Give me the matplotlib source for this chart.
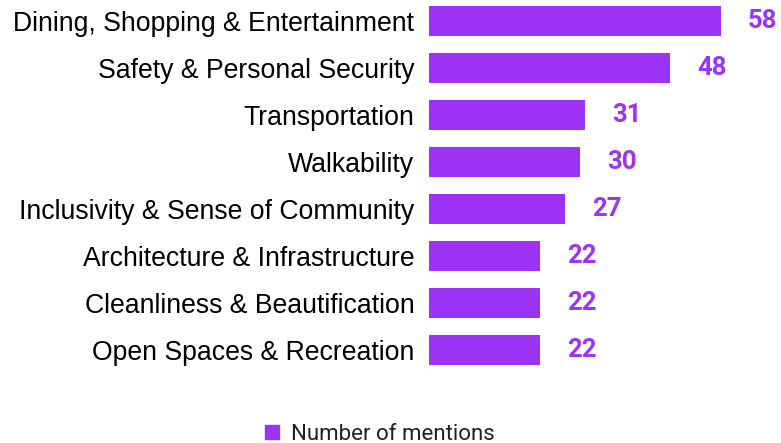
import matplotlib; matplotlib.use("agg")
import matplotlib.pyplot as plt
from matplotlib.patches import Patch

categories = ["Dining, Shopping & Entertainment", "Safety & Personal Security",
              "Transportation", "Walkability", "Inclusivity & Sense of Community",
              "Architecture & Infrastructure", "Cleanliness & Beautification",
              "Open Spaces & Recreation"]
mentions = [58, 48, 31, 30, 27, 22, 22, 22]
series_name = "Number of mentions"

purple = "#9D33F7"

fig = plt.figure(figsize=(7.81, 4.43), dpi=100)
ax = fig.add_axes([429/781, (443-372)/443, 342/781, 372/443])

y = range(len(categories))
ax.barh(y, mentions, height=0.64, color=purple)
ax.set_ylim(7.468, -0.447)
ax.set_xlim(0, 68)

ax.set_yticks(list(y))
ax.set_yticklabels(categories, fontfamily="Liberation Sans", fontsize=19.2, color="black")
ax.tick_params(axis="y", length=0, pad=10.5)
ax.set_xticks([])
for s in ax.spines.values():
    s.set_visible(False)

# value labels, nudged in for the longest bar so it stays inside the canvas
for i, v in enumerate(mentions):
    ax.text(min(v + 5.4, 64.2), i + 0.01, str(v), va="center", ha="left", fontfamily="Roboto",
            fontweight="bold", fontsize=18.5, color=purple)

fig.legend(handles=[Patch(color=purple, label=series_name)], loc="center",
           bbox_to_anchor=(380/781, 1 - 434/443), frameon=False,
           prop={"family": "Roboto", "size": 16}, labelcolor="#222222",
           handlelength=0.6, handleheight=0.6, handletextpad=0.55)

fig.savefig("out.png", dpi=100)
